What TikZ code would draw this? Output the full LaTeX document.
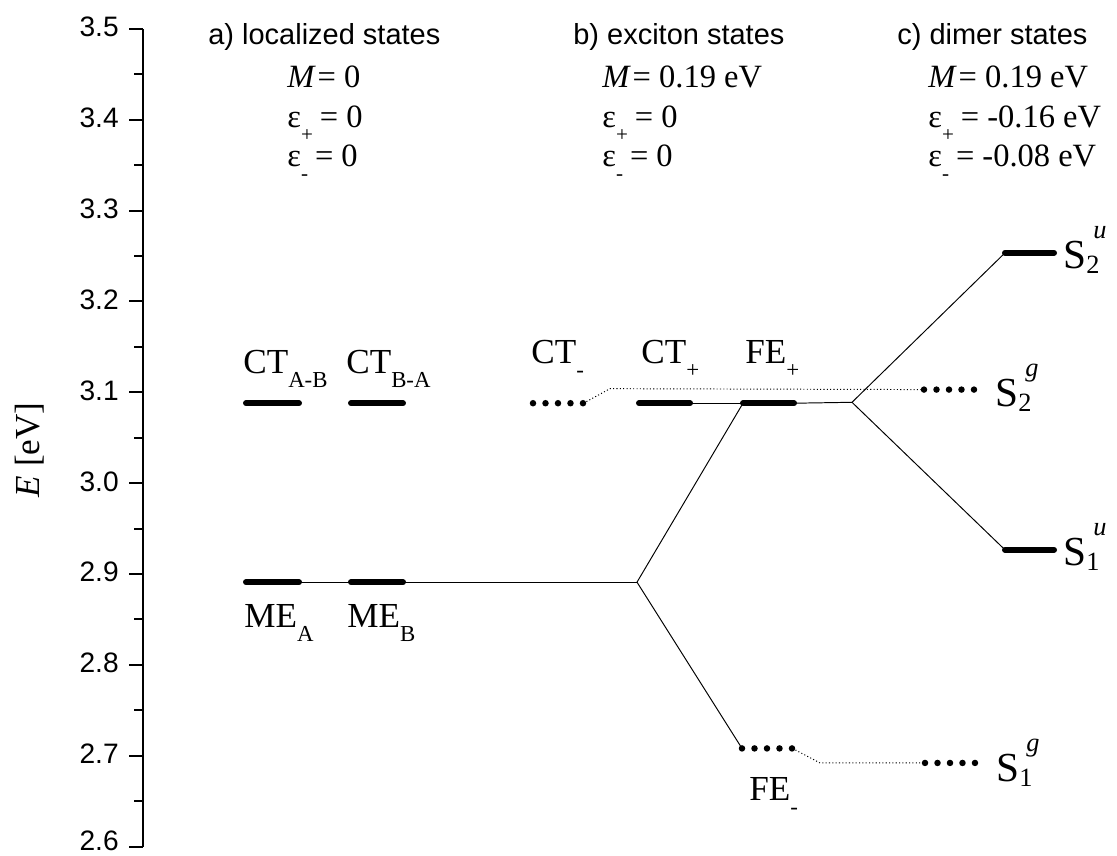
\documentclass[tikz,border=0pt]{standalone}
\usepackage{fontspec}
\setmainfont{Liberation Serif}
\newfontfamily\axisfont{Liberation Sans}
\usetikzlibrary{calc}
\tikzset{
  lev/.style     = {line width=0.12cm, line cap=round},
  dotlev/.style  = {line width=0.13cm, line cap=round, dash pattern=on 0pt off 0.25cm},
  link/.style    = {line width=0.55pt},
  dotlink/.style = {line width=0.55pt, dash pattern=on 0.6pt off 1.3pt},
  lab/.style     = {inner sep=0pt, anchor=base west, font=\fontsize{20}{23}\selectfont},
  slab/.style    = {inner sep=0pt, anchor=base west, font=\fontsize{23.5}{27}\selectfont},
  head/.style    = {inner sep=0pt, anchor=base west, font=\axisfont\fontsize{16.5}{19}\selectfont},
  parlab/.style  = {inner sep=0pt, anchor=base west, font=\fontsize{18.5}{21}\selectfont},
  ticklab/.style = {inner sep=0pt, anchor=east, font=\axisfont\fontsize{16}{19}\selectfont},
}
\newcommand\lsub[2]{#1\raisebox{-0.28cm}{\fontsize{13}{15}\selectfont #2}}
\newcommand\slev[2]{S\rlap{\raisebox{-0.1cm}{\fontsize{15}{17}\selectfont #1}}%
  \raisebox{0.6cm}{\kern0.14cm\fontsize{15}{17}\selectfont\textit{#2}}}
\newcommand\eps[1]{ε\raisebox{-0.28cm}{\fontsize{12}{14}\selectfont #1}\kern4pt}

\begin{document}
\begin{tikzpicture}[x=0.02cm, y=18.172cm]
\useasboundingbox (0,2.5898) rectangle (1117,3.5319);

% ── Energy axis: 2.6 to 3.5 eV ────────────────────────────────
\draw[line width=0.04cm] (143,2.6) -- (143,3.5);
\foreach \ee/\dy in {2.6/0.006,2.7/0.002,2.8/0.002,2.9/0.002,3.0/0.002,
                     3.1/0.002,3.2/0.002,3.3/0.002,3.4/0.002,3.5/0.002}{
  \draw[line width=0.04cm] (129,\ee) -- (143,\ee);
  \node[ticklab] at (119,\ee+\dy) {\ee};
}
% minor ticks
\foreach \k in {0,1,...,8}{
  \pgfmathsetmacro\ee{2.65+\k/10}
  \draw[line width=0.04cm] (134,\ee) -- (143,\ee);
}
\node[rotate=90, font=\fontsize{20}{24}\selectfont] (elab) at (30,3.0367) {\textit{E} [eV]};

% ── Column headers ────────────────────────────────────────────
\node[head] (ha) at (208,3.4824) {a) localized states};
\node[head] (hb) at (573,3.4824) {b) exciton states};
\node[head] (hc) at (897,3.4824) {c) dimer states};

\node[parlab] (ma) at (287,3.4351) {\textit{M}\kern1pt= 0};
\node[parlab] (epa) at (287,3.3910) {\eps{+}= 0};
\node[parlab] (ema) at (287,3.3481) {\eps{-}= 0};

\node[parlab] (mb) at (602,3.4351) {\textit{M}\kern1pt= 0.19 eV};
\node[parlab] (epb) at (602,3.3910) {\eps{+}= 0};
\node[parlab] (emb) at (602,3.3481) {\eps{-}= 0};

\node[parlab] (mc) at (928,3.4351) {\textit{M}\kern1pt= 0.19 eV};
\node[parlab] (epc) at (928,3.3910) {\eps{+}= -0.16 eV};
\node[parlab] (emc) at (928,3.3481) {\eps{-}= -0.08 eV};

% ── Level end points ──────────────────────────────────────────
% a) localized
\coordinate (ctab-l) at (246,3.088);  \coordinate (ctab-r) at (299,3.088);
\coordinate (ctba-l) at (351,3.088);  \coordinate (ctba-r) at (403,3.088);
\coordinate (mea-l)  at (246,2.891);  \coordinate (mea-r)  at (299,2.891);
\coordinate (meb-l)  at (351,2.891);  \coordinate (meb-r)  at (403,2.891);
% b) exciton
\coordinate (ctm-l)  at (533,3.088);  \coordinate (ctm-r)  at (583.5,3.088);
\coordinate (ctp-l)  at (639,3.088);  \coordinate (ctp-r)  at (690,3.088);
\coordinate (fep-l)  at (743,3.088);  \coordinate (fep-r)  at (794,3.088);
\coordinate (fem-l)  at (742,2.708);  \coordinate (fem-r)  at (792.5,2.708);
% c) dimer
\coordinate (s2u-l)  at (1005,3.2535); \coordinate (s2u-r) at (1054,3.2535);
\coordinate (s1u-l)  at (1005,2.9266); \coordinate (s1u-r) at (1054,2.9266);
\coordinate (s2g-l)  at (924,3.103);   \coordinate (s2g-r) at (974.5,3.103);
\coordinate (s1g-l)  at (925,2.692);   \coordinate (s1g-r) at (975.5,2.692);
% split and bend points
\coordinate (sp1) at (637,2.891);
\coordinate (sp2) at (852,3.089);
\coordinate (bd1) at (610,3.104);
\coordinate (bd2) at (820,2.692);

% ── Connectors ────────────────────────────────────────────────
\draw[link] (mea-r) -- (meb-l);
\draw[link] (meb-r) -- (sp1);
\draw[link] (sp1) -- (fep-l);
\draw[link] (sp1) -- (fem-l);
\draw[link] (ctp-r) -- (fep-l);
\draw[link] (fep-r) -- (sp2);
\draw[link] (sp2) -- (s2u-l);
\draw[link] (sp2) -- (s1u-l);
\draw[dotlink] (ctm-r) -- (bd1) -- (s2g-l);
\draw[dotlink] (fem-r) -- (bd2) -- (s1g-l);

% ── Levels ────────────────────────────────────────────────────
\foreach \lv in {ctab,ctba,mea,meb,ctp,fep,s2u,s1u}
  \draw[lev] (\lv-l) -- (\lv-r);
\foreach \lv in {ctm,fem,s2g,s1g}
  \draw[dotlev] (\lv-l) -- (\lv-r);

% ── Level labels ──────────────────────────────────────────────
\node[lab, xshift=-0.06cm, yshift=0.6cm] (lctab) at (ctab-l) {\lsub{CT}{A-B}};
\node[lab, xshift=-0.1cm, yshift=0.6cm] (lctba) at (ctba-l) {\lsub{CT}{B-A}};
\node[lab, xshift=-0.04cm, yshift=-0.9cm] (lmea) at (mea-l) {\lsub{ME}{A}};
\node[lab, xshift=-0.08cm, yshift=-0.9cm] (lmeb) at (meb-l) {\lsub{ME}{B}};
\node[lab, xshift=-0.04cm, yshift=0.8cm] (lctm) at (ctm-l) {\lsub{CT}{-}};
\node[lab, xshift=0.04cm, yshift=0.8cm] (lctp) at (ctp-l) {\lsub{CT}{+}};
\node[lab, xshift=0.04cm, yshift=0.8cm] (lfep) at (fep-l) {\lsub{FE}{+}};
\node[lab, xshift=0.14cm, yshift=-1.04cm] (lfem) at (fem-l) {\lsub{FE}{-}};
\node[slab, xshift=0.18cm, yshift=-0.32cm] (ls2u) at (s2u-r) {\slev{2}{u}};
\node[slab, xshift=0.18cm, yshift=-0.32cm] (ls1u) at (s1u-r) {\slev{1}{u}};
\node[slab, xshift=0.41cm, yshift=-0.34cm] (ls2g) at (s2g-r) {\slev{2}{g}};
\node[slab, xshift=0.41cm, yshift=-0.38cm] (ls1g) at (s1g-r) {\slev{1}{g}};

\end{tikzpicture}
\end{document}
